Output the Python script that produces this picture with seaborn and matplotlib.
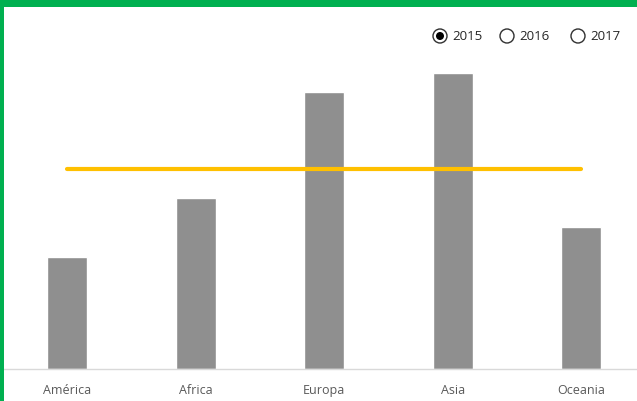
import matplotlib
matplotlib.use("Agg")
import matplotlib.pyplot as plt
import seaborn as sns
import pandas as pd
from matplotlib.patches import Rectangle, Ellipse

regions = ["América", "Africa", "Europa", "Asia", "Oceania"]
values = [112, 171, 277, 296, 142]
years = ["2015", "2016", "2017"]
selected = "2015"

df = pd.DataFrame({"region": regions, "value": values})
avg = sum(values) / len(values)

sns.set_theme(style="white")
plt.rcParams['font.family'] = ['Open Sans', 'DejaVu Sans']

W, H = 637, 401
fig = plt.figure(figsize=(W / 100, H / 100), dpi=100)
ax = fig.add_axes([0, 32 / H, 1, 1 - 32 / H])

sns.barplot(data=df, x="region", y="value", color="#8F8F8F", saturation=1,
            width=0.31, ax=ax, zorder=2)
ax.plot([0, len(regions) - 1], [avg, avg], color="#FFC000", lw=3.0,
        solid_capstyle="round", zorder=3)

step = 128.5
x0 = -0.5 - 3 / step
ax.set_xlim(x0, x0 + W / step)
ax.set_ylim(0, 369)
ax.set_xlabel("")
ax.set_ylabel("")
ax.set_yticks([])
for s in ["top", "right", "left"]:
    ax.spines[s].set_visible(False)
ax.spines["bottom"].set_color("#D9D9D9")
ax.spines["bottom"].set_linewidth(1.0)
ax.tick_params(axis="x", length=0, pad=11, labelsize=9, labelcolor="#595959")

# radio-button style year selector
cx_list = [440, 507, 578]
cy = 36
for cx, yr in zip(cx_list, years):
    fig.add_artist(Ellipse((cx / W, 1 - cy / H), 14 / W, 14 / H,
                           transform=fig.transFigure, facecolor="white",
                           edgecolor="#303030", lw=1.0))
    if yr == selected:
        fig.add_artist(Ellipse((cx / W, 1 - cy / H), 8 / W, 8 / H,
                               transform=fig.transFigure, facecolor="black",
                               edgecolor="none"))
    fig.text((cx + 12) / W, 1 - (cy + 1) / H, yr, ha="left", va="center",
             fontsize=9.5, color="#262626")

# green frame (top and left)
fig.add_artist(Rectangle((0, 1 - 7 / H), 1, 7 / H, transform=fig.transFigure,
                         facecolor="#00B050", edgecolor="none", zorder=10))
fig.add_artist(Rectangle((0, 0), 4 / W, 1, transform=fig.transFigure,
                         facecolor="#00B050", edgecolor="none", zorder=10))

fig.savefig("out.png", dpi=100)
